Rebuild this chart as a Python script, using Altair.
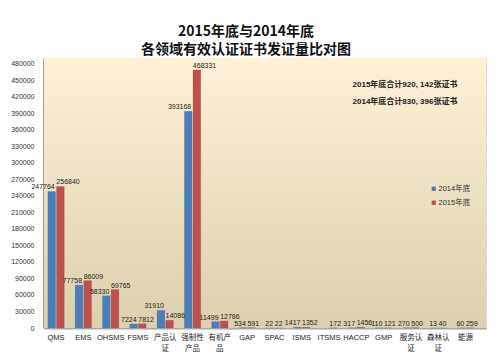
import altair as alt
import pandas as pd

categories = ["QMS", "EMS", "OHSMS", "FSMS", "产品认\n证", "强制性\n产品", "有机产\n品", "GAP",
              "SPAC", "ISMS", "ITSMS", "HACCP", "GMP", "服务认\n证", "森林认\n证", "能源"]
v2014 = [247764, 77758, 58330, 7224, 31910, 393168, 11499, 534, 22, 1417, None, 317, 110, 270, 13, 60]
v2015 = [256840, 86009, 69765, 7812, 14086, 468331, 12786, 591, 22, 1352, 172, 1456, 121, 500, 40, 259]
series = ["2014年底", "2015年底"]
colors = ["#4A7EBB", "#C0504D"]
y_ticks = list(range(0, 480001, 30000))
notes = ["2015年底合计920, 142张证书", "2014年底合计830, 396张证书"]

rows = []
for c, a, b in zip(categories, v2014, v2015):
    if a is not None:
        rows.append({"cat": c, "series": series[0], "value": a})
    if b is not None:
        rows.append({"cat": c, "series": series[1], "value": b})
df = pd.DataFrame(rows)

CJK = "Noto Sans CJK SC"
MIX = "Liberation Sans, Noto Sans CJK SC"

bg = alt.Chart(alt.Data(values=[{}])).mark_rect(
    color=alt.Gradient(gradient="linear",
                       stops=[alt.GradientStop(color="#FEF1D8", offset=0),
                              alt.GradientStop(color="#DCD0AE", offset=1)],
                       x1=0, x2=0, y1=0, y2=1)
).encode(x=alt.value(0), x2=alt.value("width"), y=alt.value(0), y2=alt.value("height"))

xscale = alt.Scale(paddingInner=0.4, paddingOuter=0.295, align=0.24)
xoff = alt.XOffset("series:N", sort=series, scale=alt.Scale(paddingInner=0.1))
yscale = alt.Scale(domain=[0, 490000], nice=False)

xaxis = alt.Axis(labelExpr="split(datum.label, '\\n')", labelAngle=0,
                 labelFont=MIX, labelFontSize=7.5, labelColor="#222222",
                 labelPadding=5, tickSize=0, domainColor="#A8A8A8",
                 domainWidth=2, labelLineHeight=11, grid=False, labelOverlap=False)
yaxis = alt.Axis(values=y_ticks, format="d", labelFont="Liberation Sans",
                 labelFontSize=7, labelColor="#333333", tickSize=0, tickCount=17,
                 labelPadding=10, domainColor="#A0A0A0", domainWidth=3,
                 gridColor="#A9A59A", gridWidth=1, labelOverlap=False)

xenc = alt.X("cat:N", sort=categories, title=None, scale=xscale, axis=xaxis)
yenc = alt.Y("value:Q", title=None, scale=yscale, axis=yaxis)

base = alt.Chart(df)

bars = base.mark_bar(stroke="#555555", strokeWidth=0.3, strokeOpacity=0.6).encode(
    x=xenc, y=yenc, xOffset=xoff,
    color=alt.Color("series:N", sort=series,
                    scale=alt.Scale(domain=series, range=colors),
                    legend=alt.Legend(title=None, orient="none", legendX=386, legendY=127,
                                      symbolType="square", symbolSize=18,
                                      symbolStrokeWidth=0, labelFont=MIX,
                                      labelFontSize=7.5, labelColor="#333333",
                                      rowPadding=5, symbolOffset=0, labelOffset=1)),
)

def labels(s, align, dx):
    return base.transform_filter(alt.datum.series == s).mark_text(
        align=align, baseline="bottom", dx=dx, dy=-1, font="Liberation Sans",
        fontSize=7, color="#222222"
    ).encode(
        x=xenc, xOffset=xoff, y=yenc,
        text=alt.Text("value:Q", format="d"))

lbl_2014 = labels(series[0], "right", 3)
lbl_2015 = labels(series[1], "left", -4)

note1 = alt.Chart(alt.Data(values=[{}])).mark_text(
    align="center", baseline="middle", font=MIX, fontSize=8, fontWeight="bold", color="#222222"
).encode(x=alt.value(361), y=alt.value(27), text=alt.value(notes[0]))
note2 = alt.Chart(alt.Data(values=[{}])).mark_text(
    align="center", baseline="middle", font=MIX, fontSize=8, fontWeight="bold", color="#222222"
).encode(x=alt.value(361), y=alt.value(44), text=alt.value(notes[1]))

chart = alt.layer(bg, bars, lbl_2014, lbl_2015, note1, note2).properties(
    width=442, height=270,
    autosize=alt.AutoSizeParams(type="none"),
    padding={"left": 36, "top": 50, "right": 6, "bottom": 25},
    title=alt.Title(["2015年底与2014年底", "各领域有效认证证书发证量比对图"],
                    font=CJK, fontSize=14, fontWeight="bold", color="#111111",
                    anchor="middle", offset=1, lineHeight=18, dx=-19),
).configure_view(strokeWidth=0).configure(background="white")

chart.save("out.html", embed_options={"renderer": "svg", "actions": False})
